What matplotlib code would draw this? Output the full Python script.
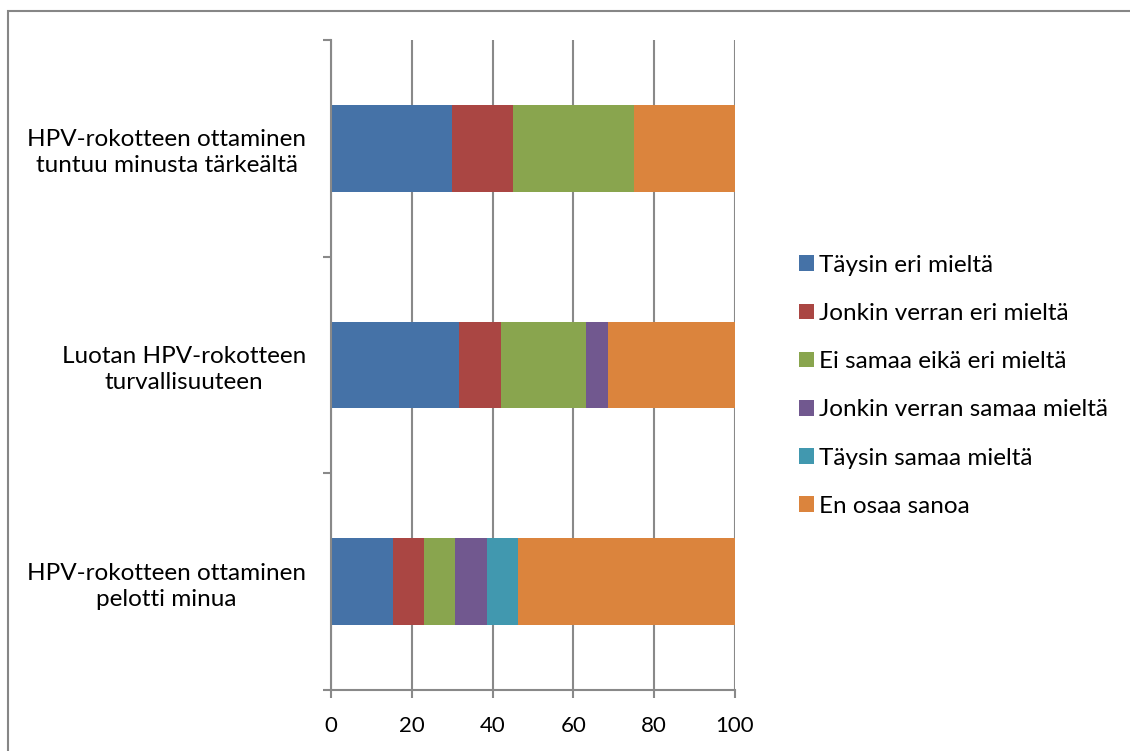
import matplotlib
matplotlib.use("Agg")
import matplotlib.pyplot as plt
from matplotlib.patches import Rectangle

plt.rcParams['font.family'] = ['Lato', 'DejaVu Sans']

# Statements (top to bottom) and response shares (%)
categories = [
    "HPV-rokotteen ottaminen\ntuntuu minusta tärkeältä",
    "Luotan HPV-rokotteen\nturvallisuuteen",
    "HPV-rokotteen ottaminen\npelotti minua",
]
series_names = [
    "Täysin eri mieltä",
    "Jonkin verran eri mieltä",
    "Ei samaa eikä eri mieltä",
    "Jonkin verran samaa mieltä",
    "Täysin samaa mieltä",
    "En osaa sanoa",
]
taysin_eri = [30.0, 31.6, 15.4]
jonkin_eri = [15.0, 10.5, 7.7]
ei_samaa_eika_eri = [30.0, 21.1, 7.7]
jonkin_samaa = [0.0, 5.3, 7.7]
taysin_samaa = [0.0, 0.0, 7.7]
en_osaa = [25.0, 31.5, 53.8]
series_values = [taysin_eri, jonkin_eri, ei_samaa_eika_eri,
                 jonkin_samaa, taysin_samaa, en_osaa]
colors = ["#4572A7", "#AA4643", "#89A54E", "#71588F", "#4198AF", "#DB843D"]
x_ticks = [0, 20, 40, 60, 80, 100]

fig = plt.figure(figsize=(11.3, 7.51), dpi=100)
ax = fig.add_axes([331 / 1130, 61 / 751, 404 / 1130, 650 / 751])

ypos = [2, 1, 0]
left = [0.0, 0.0, 0.0]
for name, vals, col in zip(series_names, series_values, colors):
    ax.barh(ypos, vals, left=left, height=0.4, color=col, label=name,
            edgecolor='none', zorder=3)
    left = [l + v for l, v in zip(left, vals)]

grid_col = "#898989"
ax.set_xlim(0, 100)
ax.set_ylim(-0.5, 2.5)
ax.set_xticks(x_ticks)
ax.set_xticklabels([str(t) for t in x_ticks], fontsize=16)
ax.xaxis.grid(True, color=grid_col, linewidth=1.5, zorder=0)
ax.set_axisbelow(True)

# category labels centred in each band, separator ticks at band edges
ax.set_yticks([-0.5, 0.5, 1.5, 2.5])
ax.set_yticklabels([])
ax.set_yticks(ypos, minor=True)
ax.set_yticklabels(categories, minor=True, fontsize=17.5,
                   multialignment='center', linespacing=1.3)
ax.tick_params(axis='y', which='minor', length=0, pad=18)
ax.tick_params(axis='y', which='major', length=6, width=1.5, color=grid_col)
ax.tick_params(axis='x', length=6, width=1.5, color=grid_col, pad=13,
               direction='out')

for side in ['top', 'right']:
    ax.spines[side].set_visible(False)
for side in ['left', 'bottom']:
    ax.spines[side].set_color(grid_col)
    ax.spines[side].set_linewidth(1.5)
    ax.spines[side].set_zorder(4)

leg = fig.legend(loc='upper left', bbox_to_anchor=(789 / 1130, 1 - 245 / 751),
                 frameon=False, fontsize=17.5, handlelength=0.62,
                 handleheight=0.62, handletextpad=0.2, labelspacing=1.12,
                 borderaxespad=0)

# outer chart frame
fig.patches.append(Rectangle((7.5 / 1130, -0.1), 1.2, 1 - 10.5 / 751 + 0.1,
                             transform=fig.transFigure, fill=False,
                             edgecolor="#868686", linewidth=1.5))

fig.savefig("out.png", dpi=100)
